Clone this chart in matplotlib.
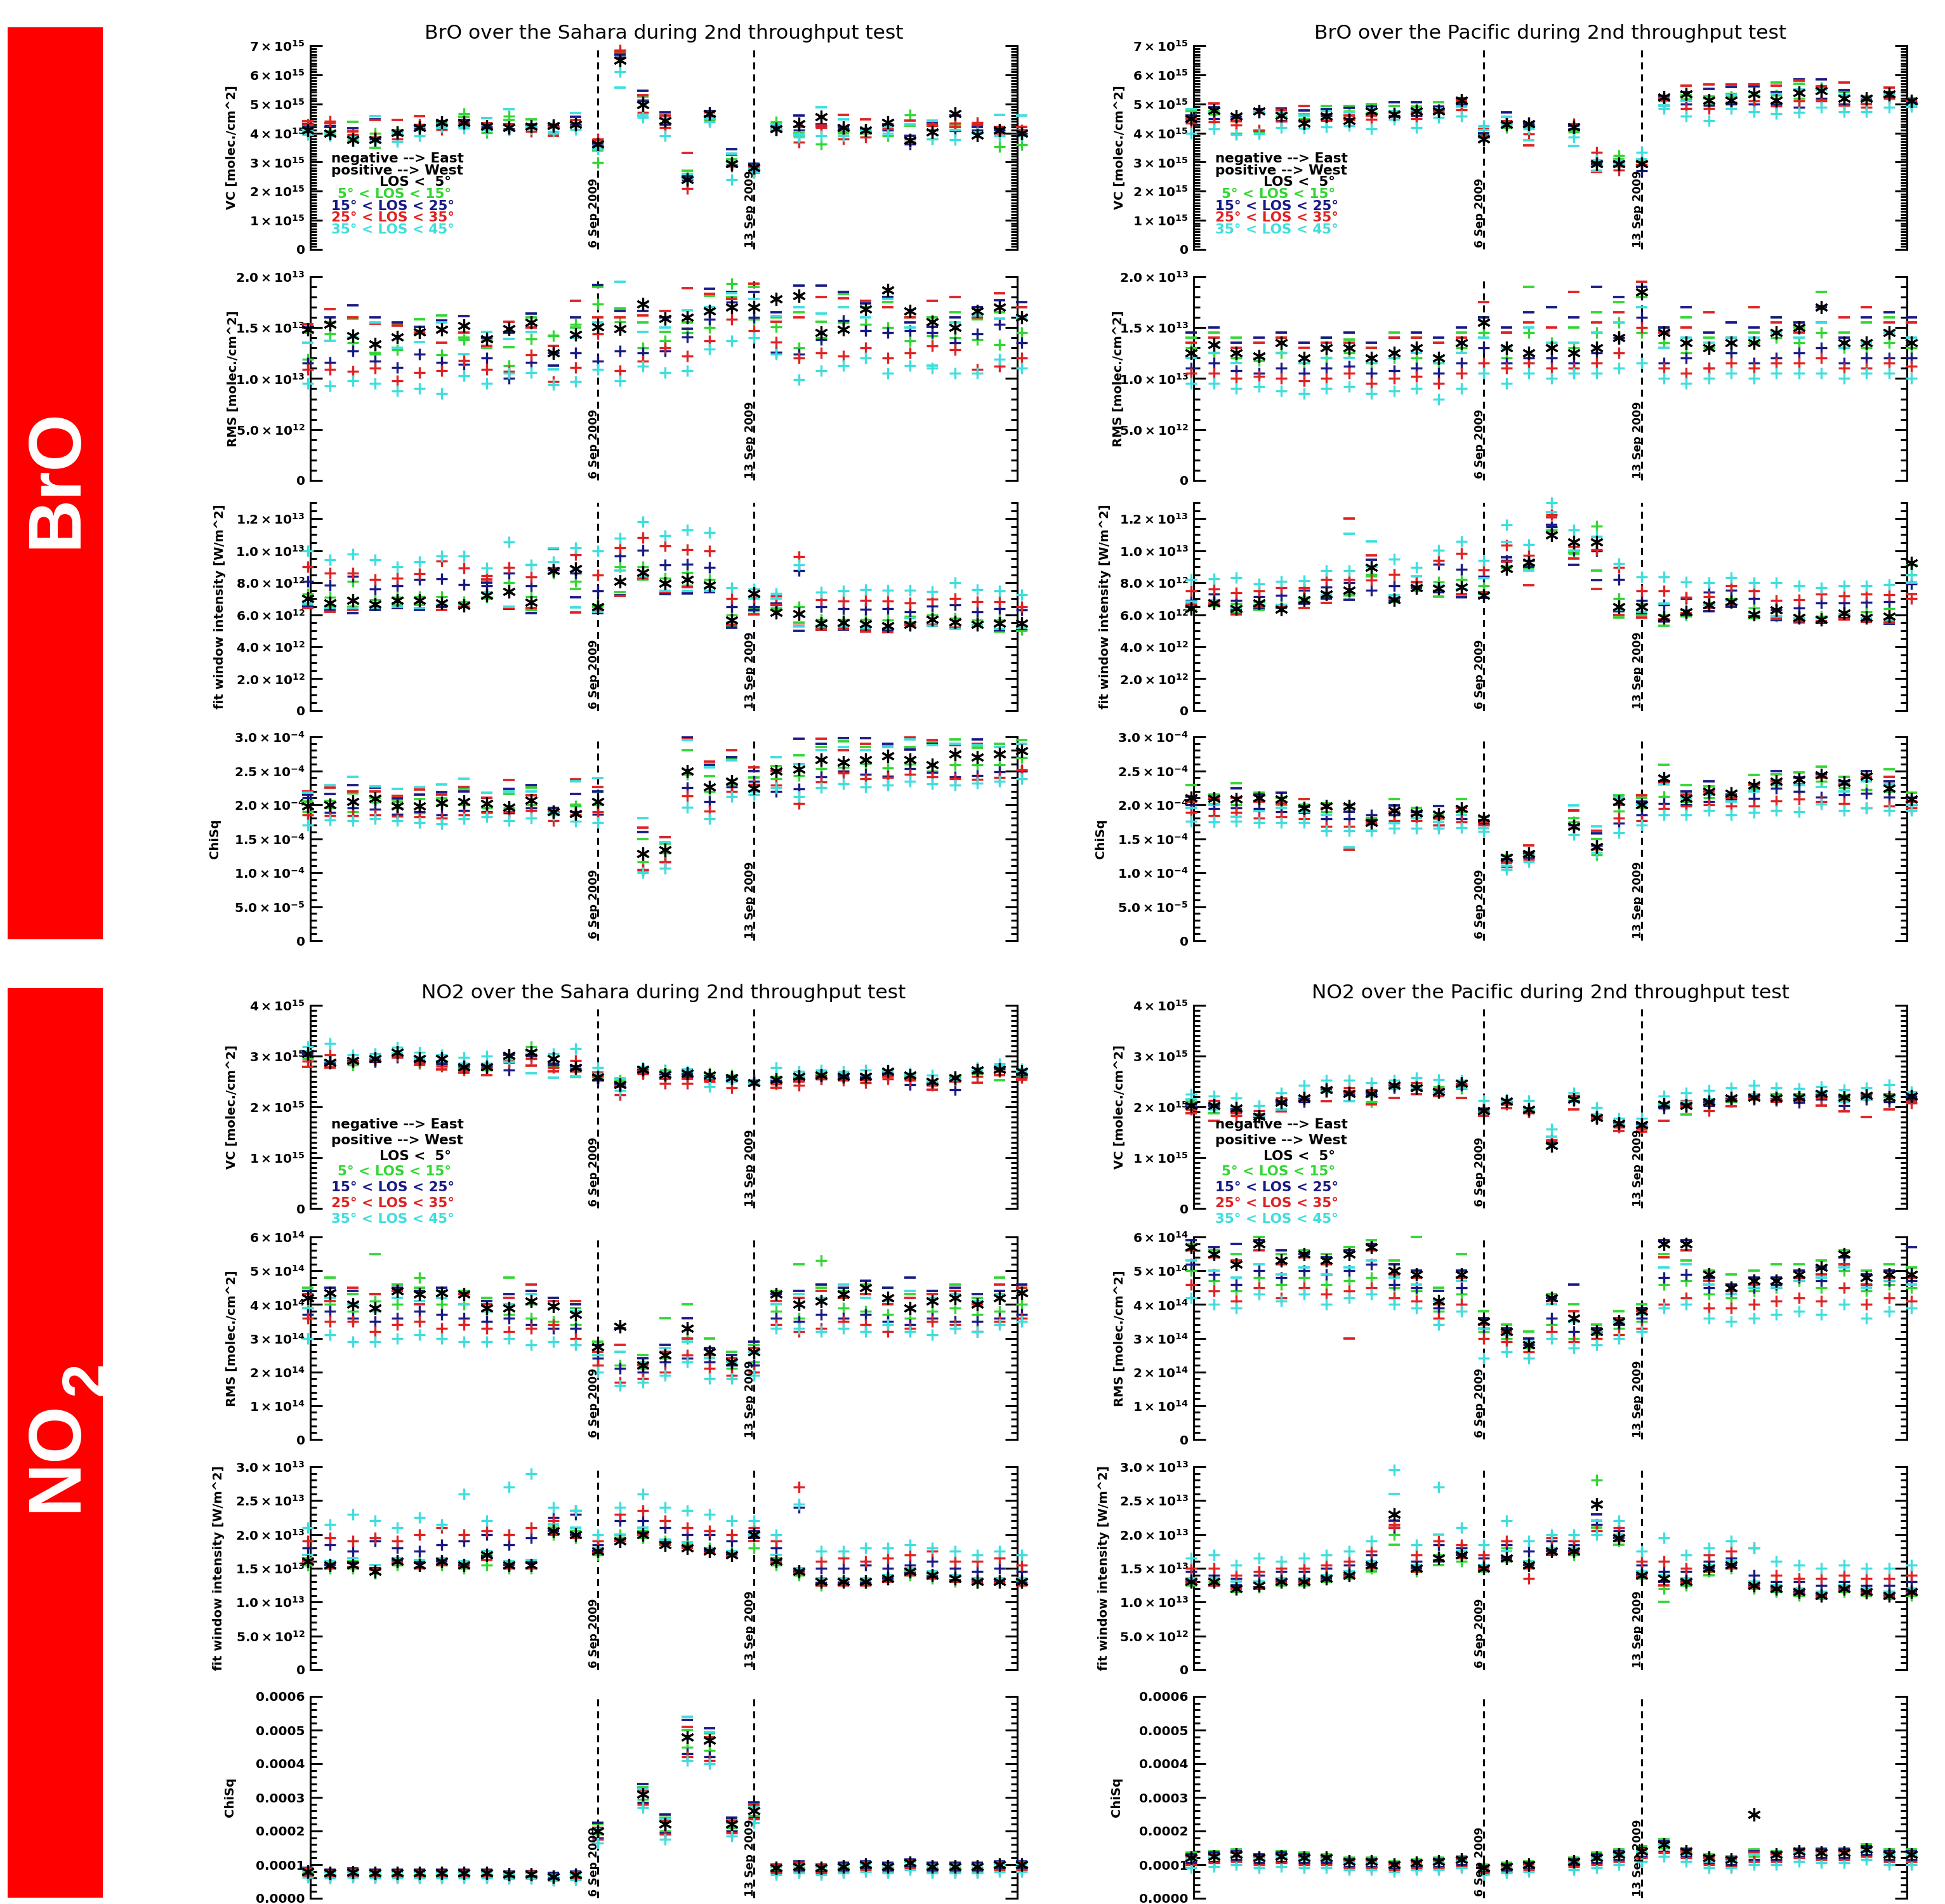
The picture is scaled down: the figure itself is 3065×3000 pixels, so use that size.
import numpy as np
import matplotlib
matplotlib.use("Agg")
import matplotlib.pyplot as plt
from matplotlib.patches import Rectangle
from matplotlib.ticker import MultipleLocator
from matplotlib import transforms

nan = np.nan

# days relative to 6 Sep 2009 (one value per day)
DAY = [-13, -12, -11, -10, -9, -8, -7, -6, -5, -4, -3, -2, -1, 0, 1, 2, 3, 4, 5, 6,
       7, 8, 9, 10, 11, 12, 13, 14, 15, 16, 17, 18, 19]

# suffix: k = LOS < 5 ; g/b/r/c = 5-15 / 15-25 / 25-35 / 35-45 deg
#         p = positive (West, "+"), n = negative (East, "-")

# ---- BrO Sahara, VC [1e15 molec/cm2]
bro_sah_vc_k = [4.1,4.0,3.77,3.77,4.02,4.19,4.37,4.37,4.23,4.19,4.23,4.26,4.3,3.62,6.5,4.98,4.42,2.39,4.67,2.95,2.81,4.14,4.32,4.56,4.18,4.11,4.37,3.75,4.04,4.67,3.93,4.11,4.0]
bro_sah_vc_gp = [4.0,3.95,3.72,4.0,4.05,4.2,4.3,4.67,4.02,4.57,4.15,4.25,4.25,2.98,6.75,5.15,4.35,2.5,4.45,3.0,2.63,4.39,3.9,3.61,4.05,4.0,3.9,4.63,3.79,4.2,4.3,3.54,3.6]
bro_sah_vc_gn = [4.2,4.05,4.39,3.5,4.1,4.25,4.35,4.55,4.3,4.45,4.48,4.3,4.35,3.41,6.8,5.25,4.5,2.71,4.55,3.1,2.75,4.2,4.0,4.2,4.0,4.1,4.2,4.25,4.25,4.3,4.28,4.1,4.1]
bro_sah_vc_bp = [4.2,4.25,3.9,3.8,3.95,4.15,4.3,4.35,4.2,4.15,4.2,4.2,4.3,3.55,6.6,5.1,4.3,2.4,4.6,2.9,2.7,4.1,4.1,4.25,4.15,4.05,4.1,3.61,4.1,4.07,4.1,4.1,4.0]
bro_sah_vc_bn = [4.3,4.2,4.16,4.48,4.0,4.25,4.4,4.45,4.51,4.3,4.3,4.25,4.55,3.65,6.7,5.45,4.71,2.5,4.75,3.44,2.95,4.25,4.61,4.3,4.2,4.15,4.3,3.9,4.35,4.6,4.2,4.15,4.2]
bro_sah_vc_rp = [4.3,4.4,3.95,3.85,3.8,4.3,4.12,4.3,4.15,4.12,4.05,4.2,4.25,3.8,6.85,4.7,4.18,2.09,4.5,2.85,2.8,4.15,3.68,4.18,3.79,3.86,4.15,3.8,4.25,4.33,4.37,4.0,4.1]
bro_sah_vc_rn = [4.4,4.35,4.05,4.45,4.44,4.58,4.25,4.4,4.35,4.3,4.2,3.91,4.45,3.75,6.8,5.3,4.6,3.31,4.7,3.25,2.85,4.3,4.2,4.25,4.63,4.46,4.25,4.42,4.3,4.2,4.3,4.2,4.2]
bro_sah_vc_cp = [3.95,3.9,3.8,3.7,3.7,3.91,4.2,4.17,4.1,4.1,4.15,4.05,4.12,3.45,6.1,4.53,3.9,2.45,4.39,2.39,2.65,4.15,3.85,3.9,3.9,4.1,4.0,3.7,3.8,3.77,4.0,3.9,3.9]
bro_sah_vc_cn = [4.05,4.0,3.85,4.58,4.0,4.1,4.19,4.2,4.51,4.81,4.2,4.0,4.69,3.5,5.55,4.6,4.5,2.6,4.5,3.3,2.75,4.3,3.95,4.88,4.48,4.05,4.2,4.3,4.42,4.1,4.0,4.63,4.6]

# ---- BrO Sahara, RMS [1e13 molec/cm2]
bro_sah_rms_k = [1.48,1.53,1.42,1.34,1.41,1.46,1.48,1.52,1.39,1.49,1.55,1.25,1.43,1.51,1.49,1.73,1.59,1.6,1.66,1.7,1.7,1.78,1.81,1.45,1.48,1.68,1.87,1.66,1.56,1.5,1.66,1.7,1.6]
bro_sah_rms_gp = [1.19,1.44,1.35,1.24,1.28,1.45,1.23,1.38,1.38,1.13,1.39,1.42,1.53,1.73,1.56,1.3,1.37,1.45,1.5,1.93,1.58,1.51,1.3,1.4,1.55,1.53,1.5,1.37,1.42,1.4,1.38,1.33,1.45]
bro_sah_rms_gn = [1.45,1.55,1.59,1.25,1.53,1.58,1.62,1.4,1.3,1.31,1.6,1.42,1.5,1.9,1.69,1.55,1.46,1.55,1.81,1.8,1.9,1.6,1.65,1.56,1.83,1.7,1.75,1.6,1.6,1.65,1.58,1.65,1.7]
bro_sah_rms_bp = [1.15,1.16,1.27,1.17,1.11,1.24,1.16,1.14,1.2,1.0,1.16,1.25,1.25,1.17,1.27,1.25,1.27,1.41,1.58,1.75,1.6,1.26,1.24,1.38,1.57,1.47,1.45,1.47,1.45,1.35,1.44,1.53,1.35]
bro_sah_rms_bn = [1.5,1.6,1.72,1.6,1.55,1.51,1.57,1.61,1.4,1.45,1.64,1.13,1.6,1.92,1.66,1.66,1.6,1.49,1.88,1.85,1.85,1.65,1.91,1.91,1.85,1.74,1.8,1.55,1.51,1.6,1.7,1.77,1.75]
bro_sah_rms_rp = [1.09,1.09,1.07,1.1,0.98,1.06,1.08,1.18,1.09,1.07,1.23,0.97,1.11,1.44,1.08,1.17,1.3,1.22,1.37,1.58,1.47,1.36,1.2,1.25,1.22,1.3,1.2,1.25,1.32,1.28,1.09,1.12,1.2]
bro_sah_rms_rn = [1.53,1.68,1.6,1.54,1.52,1.45,1.35,1.45,1.32,1.56,1.5,1.32,1.76,1.6,1.6,1.62,1.66,1.89,1.83,1.78,1.93,1.56,1.6,1.8,1.79,1.76,1.7,1.6,1.76,1.8,1.6,1.84,1.7]
bro_sah_rms_cp = [0.95,0.93,0.98,0.95,0.88,0.9,0.85,1.03,0.95,1.05,1.06,0.94,0.97,1.09,0.98,1.12,1.06,1.08,1.29,1.37,1.4,1.24,0.99,1.08,1.13,1.2,1.05,1.13,1.1,1.05,1.05,1.19,1.1]
bro_sah_rms_cn = [1.35,1.37,1.4,1.55,1.3,1.36,1.55,1.24,1.46,1.39,1.46,1.09,1.4,1.55,1.95,1.46,1.5,1.67,1.7,1.84,1.78,1.61,1.7,1.64,1.7,1.6,1.78,1.5,1.13,1.55,1.62,1.59,1.6]

# ---- BrO Sahara, fit window intensity [1e12 W/m2]
bro_sah_fit_k = [7.0,6.75,6.9,6.66,6.9,6.9,6.75,6.56,7.2,7.45,6.78,8.77,8.86,6.5,8.08,8.64,7.95,8.2,7.86,5.65,7.34,6.13,6.08,5.45,5.5,5.42,5.3,5.38,5.7,5.55,5.38,5.45,5.45]
bro_sah_fit_gp = [7.3,7.1,8.1,6.95,7.1,7.15,7.15,6.8,7.1,8.0,7.15,8.6,8.1,6.6,9.0,9.0,8.3,8.64,8.19,6.0,6.4,6.43,6.5,5.7,5.7,5.7,5.65,5.9,5.97,5.78,5.65,5.65,5.06]
bro_sah_fit_gn = [6.6,6.5,6.5,6.5,6.6,6.6,6.6,6.6,7.0,6.5,6.3,8.9,7.6,6.5,7.4,8.19,7.5,7.8,7.43,5.3,6.23,6.3,5.5,5.2,5.2,5.1,5.1,5.5,5.4,5.2,5.35,4.95,5.0]
bro_sah_fit_bp = [8.1,7.86,8.4,7.6,7.8,8.2,8.25,7.9,7.8,8.6,7.82,8.8,8.6,7.47,9.65,10.04,9.1,9.17,8.94,6.5,6.5,6.6,8.77,6.5,6.36,6.34,6.36,6.17,6.52,6.62,6.2,6.36,6.3]
bro_sah_fit_bn = [6.5,6.3,6.1,6.3,6.4,6.3,6.5,6.5,8.0,6.36,6.1,10.1,7.1,6.1,7.2,8.3,7.3,7.34,7.4,5.2,6.3,6.7,5.0,5.08,5.06,5.0,5.0,5.4,5.3,5.15,5.3,5.05,5.1]
bro_sah_fit_rp = [9.0,8.6,8.6,8.2,8.3,8.55,9.36,8.9,8.45,8.97,8.35,8.86,9.75,8.47,10.17,10.8,10.3,10.08,10.0,7.0,7.08,7.17,9.62,6.95,6.86,6.9,6.86,6.73,6.98,7.0,6.82,6.82,6.5]
bro_sah_fit_rn = [6.4,6.2,6.3,6.4,6.5,6.4,6.3,6.5,8.2,6.4,6.4,8.9,6.13,6.3,7.17,8.3,7.4,7.73,7.5,5.4,6.04,6.62,5.3,5.08,5.1,4.95,4.9,5.4,5.35,5.2,5.3,5.1,5.2]
bro_sah_fit_cp = [10.0,9.45,9.8,9.45,9.0,9.3,9.65,9.65,8.9,10.56,9.1,9.3,10.17,10.0,10.77,11.8,10.92,11.3,11.12,7.7,7.6,7.34,9.1,7.4,7.5,7.56,7.54,7.54,7.43,8.0,7.56,7.47,7.27]
bro_sah_fit_cn = [6.7,6.4,6.4,6.4,6.5,6.43,6.6,6.6,7.4,6.5,9.1,10.15,6.47,6.2,8.77,8.4,7.5,7.5,7.5,5.5,7.0,7.0,5.25,5.3,5.3,5.2,5.15,5.78,5.3,5.12,5.3,5.1,5.2]

# ---- BrO Sahara, ChiSq [1e-4]
bro_sah_chi_k = [1.98,2.0,2.05,2.09,1.98,1.98,2.03,2.05,2.02,1.96,2.07,1.9,1.87,2.05,nan,1.28,1.34,2.5,2.26,2.35,2.24,2.5,2.52,2.66,2.63,2.66,2.72,2.66,2.59,2.75,2.7,2.75,2.79]
bro_sah_chi_gp = [1.9,1.95,1.9,2.04,1.95,1.88,2.0,2.0,1.95,1.95,2.0,1.88,1.98,2.0,nan,1.16,1.29,2.45,2.2,2.3,2.3,2.38,2.43,2.53,2.55,2.61,2.54,2.6,2.5,2.59,2.59,2.59,2.69]
bro_sah_chi_gn = [2.05,2.06,2.17,2.1,2.05,2.08,2.09,2.23,2.1,2.16,2.25,1.92,2.0,2.19,nan,1.5,1.43,2.8,2.42,2.67,2.4,2.57,2.73,2.85,2.93,2.85,2.86,2.85,2.92,2.96,2.84,2.9,2.95]
bro_sah_chi_bp = [2.1,1.89,1.95,1.93,1.86,1.9,1.85,1.92,1.9,1.88,1.95,1.9,1.9,1.86,nan,1.04,1.16,2.25,2.05,2.26,2.35,2.2,2.23,2.41,2.5,2.45,2.42,2.53,2.48,2.41,2.43,2.49,2.5]
bro_sah_chi_bn = [2.15,2.16,2.29,2.25,2.09,2.15,2.19,2.2,2.1,2.23,2.29,1.95,2.16,2.2,nan,1.6,1.52,2.99,2.59,2.7,2.5,2.5,2.97,2.9,2.98,2.98,2.9,2.81,2.9,2.9,2.96,2.85,2.9]
bro_sah_chi_rp = [1.85,1.84,1.84,1.85,1.83,1.82,1.8,1.85,1.89,1.9,1.92,1.77,1.85,1.9,nan,1.05,1.16,2.13,1.91,2.2,2.3,2.29,2.02,2.34,2.47,2.38,2.4,2.45,2.41,2.38,2.37,2.4,2.51]
bro_sah_chi_rn = [2.2,2.25,2.2,2.2,2.13,2.22,2.15,2.26,2.1,2.36,2.14,1.9,2.37,2.26,nan,1.66,1.52,2.96,2.64,2.8,2.55,2.5,2.6,2.97,2.8,2.9,2.85,2.99,2.95,2.88,2.9,2.85,2.9]
bro_sah_chi_cp = [1.7,1.78,1.77,1.79,1.77,1.74,1.72,1.79,1.82,1.77,1.8,1.85,1.76,1.74,nan,1.0,1.07,1.96,1.79,2.12,2.15,2.25,2.12,2.25,2.31,2.26,2.29,2.35,2.31,2.29,2.32,2.35,2.38]
bro_sah_chi_cn = [2.18,2.29,2.41,2.27,2.23,2.26,2.3,2.38,2.18,2.2,2.2,1.88,2.35,2.39,nan,1.8,1.45,2.95,2.55,2.65,2.2,2.7,2.6,2.8,2.85,2.8,2.85,2.96,2.88,2.9,2.88,2.85,2.9]

# ---- BrO Pacific, VC [1e15 molec/cm2]
bro_pac_vc_k = [4.5,4.78,4.57,4.76,4.6,4.35,4.57,4.42,4.76,4.64,4.76,4.76,5.13,3.8,4.3,4.32,nan,4.21,2.94,2.94,2.94,5.24,5.34,5.13,5.13,5.34,5.13,5.38,5.45,5.2,5.2,5.34,5.1]
bro_pac_vc_gp = [4.6,4.65,4.0,4.04,4.57,4.5,4.45,4.75,4.7,4.7,4.81,4.7,5.0,3.85,4.18,4.21,nan,4.04,2.9,3.23,2.9,5.1,5.17,5.0,5.25,5.3,5.3,5.2,5.55,5.3,5.1,5.35,5.0]
bro_pac_vc_gn = [4.75,4.75,4.55,4.7,4.75,4.64,4.92,4.92,4.99,4.92,4.9,5.06,5.06,3.95,4.4,4.3,nan,4.1,3.05,3.1,3.01,5.2,5.3,5.25,5.35,5.66,5.73,5.7,5.5,5.4,5.25,5.3,5.2]
bro_pac_vc_bp = [4.45,4.5,4.5,4.7,4.42,4.4,4.6,4.5,4.65,4.6,4.6,4.8,5.0,3.85,4.4,4.3,nan,4.15,3.0,2.9,2.7,4.95,5.0,4.95,5.0,4.99,5.0,4.88,5.2,5.0,5.13,5.25,5.05]
bro_pac_vc_bn = [4.6,4.88,4.55,4.81,4.85,4.78,4.81,4.86,4.9,5.05,5.05,4.9,5.2,4.0,4.71,4.35,nan,4.25,2.95,3.0,2.9,5.28,5.4,5.52,5.59,5.6,5.41,5.84,5.84,5.48,5.15,5.4,5.15]
bro_pac_vc_rp = [4.35,4.39,4.28,4.1,4.4,4.45,4.42,4.45,4.46,4.55,4.5,4.71,4.79,3.9,4.35,3.97,nan,4.32,3.33,2.73,3.01,5.15,4.85,4.85,5.05,5.1,4.92,5.1,5.1,4.95,4.88,5.2,4.99]
bro_pac_vc_rn = [4.5,5.02,4.4,4.07,4.8,4.92,4.65,4.6,4.6,4.7,4.7,4.75,5.1,4.14,4.4,3.58,nan,4.3,2.66,2.85,2.9,5.2,5.62,5.66,5.66,5.66,5.62,5.8,5.6,5.73,5.0,5.55,5.1]
bro_pac_vc_cp = [4.0,4.14,3.95,3.97,4.18,4.16,4.21,4.25,4.14,4.46,4.18,4.53,4.57,4.25,4.3,4.15,nan,3.86,3.08,2.95,3.33,4.85,4.57,4.42,4.85,4.74,4.67,4.71,4.88,4.74,4.74,4.88,4.9]
bro_pac_vc_cn = [4.81,4.7,4.5,4.72,4.7,4.6,4.75,4.7,4.85,4.75,4.8,4.85,4.9,4.1,4.55,3.75,nan,3.56,2.7,3.05,3.1,4.95,5.1,5.2,5.3,5.4,5.35,5.5,5.5,5.3,5.1,5.3,5.0]

# ---- BrO Pacific, RMS [1e13 molec/cm2]
bro_pac_rms_k = [1.25,1.33,1.25,1.22,1.35,1.2,1.3,1.3,1.2,1.25,1.3,1.2,1.35,1.55,1.3,1.25,1.3,1.25,1.3,1.4,1.85,1.45,1.35,1.3,1.35,1.35,1.45,1.5,1.7,1.35,1.35,1.45,1.35]
bro_pac_rms_gp = [1.3,1.25,1.2,1.18,1.25,1.15,1.2,1.25,1.15,1.2,1.2,1.15,1.3,1.45,1.2,1.45,1.35,1.3,1.45,1.55,1.45,1.35,1.25,1.3,1.25,1.35,1.4,1.35,1.45,1.3,1.3,1.35,1.3]
bro_pac_rms_gn = [1.4,1.45,1.4,1.35,1.4,1.35,1.4,1.38,1.3,1.45,1.4,1.35,1.45,1.6,1.45,1.9,1.7,1.5,1.65,1.75,1.8,1.5,1.6,1.4,1.55,1.45,1.6,1.5,1.85,1.45,1.55,1.6,1.55]
bro_pac_rms_bp = [1.1,1.15,1.08,1.05,1.1,1.05,1.1,1.12,1.05,1.08,1.1,1.05,1.15,1.3,1.15,1.2,1.2,1.15,1.25,1.4,1.6,1.15,1.2,1.1,1.25,1.15,1.2,1.25,1.3,1.15,1.2,1.2,1.2]
bro_pac_rms_bn = [1.45,1.5,1.35,1.4,1.45,1.35,1.4,1.45,1.35,1.4,1.45,1.4,1.5,1.6,1.5,1.65,1.7,1.6,1.9,1.8,1.9,1.5,1.7,1.45,1.55,1.5,1.6,1.55,1.7,1.4,1.6,1.65,1.6]
bro_pac_rms_rp = [1.05,1.05,1.0,1.02,1.0,0.98,1.0,1.05,0.95,1.0,1.02,0.95,1.05,1.15,1.1,1.15,1.1,1.1,1.15,1.25,1.5,1.1,1.05,1.1,1.15,1.1,1.15,1.15,1.2,1.1,1.1,1.15,1.12]
bro_pac_rms_rn = [1.35,1.4,1.3,1.35,1.4,1.3,1.35,1.35,1.3,1.4,1.4,1.35,1.4,1.75,1.45,1.55,1.5,1.85,1.55,1.65,1.95,1.45,1.5,1.65,1.4,1.7,1.55,1.45,1.55,1.6,1.7,1.55,1.55]
bro_pac_rms_cp = [0.95,0.95,0.9,0.92,0.88,0.85,0.9,0.92,0.85,0.88,0.9,0.8,0.9,1.05,0.95,1.05,1.0,1.05,1.05,1.1,1.15,1.0,0.95,1.0,1.05,1.0,1.05,1.05,1.05,1.0,1.05,1.05,1.0]
bro_pac_rms_cn = [1.2,1.25,1.15,1.2,1.25,1.15,1.2,1.2,1.15,1.2,1.25,1.15,1.25,1.4,1.3,1.5,1.35,1.35,1.45,1.55,1.7,1.3,1.4,1.35,1.4,1.4,1.45,1.4,1.55,1.3,1.35,1.45,1.4]

# ---- BrO Pacific, fit window intensity [1e12 W/m2]
bro_pac_fit_k = [6.36,6.73,6.39,6.73,6.34,6.95,7.3,7.51,8.94,6.95,7.67,7.64,7.73,7.21,8.87,9.26,10.99,10.56,10.56,6.49,6.49,5.84,6.2,6.62,6.82,6.04,6.3,5.84,5.71,6.1,5.84,5.91,9.23]
bro_pac_fit_gp = [6.7,6.9,6.7,6.8,6.6,7.1,7.4,7.3,8.51,7.0,7.8,8.06,8.19,7.8,9.03,9.1,11.3,9.82,11.55,7.01,6.7,6.0,5.97,6.75,7.0,6.43,5.9,5.84,5.9,6.05,6.2,6.39,9.1]
bro_pac_fit_gn = [6.3,6.55,6.1,6.3,6.4,6.8,7.1,7.2,8.4,6.8,7.5,7.12,7.17,7.3,8.9,8.9,11.2,9.9,8.77,5.84,6.0,5.32,5.9,6.4,6.6,5.8,5.7,5.5,5.5,5.8,5.6,5.6,8.5]
bro_pac_fit_bp = [6.9,7.3,6.88,7.12,7.21,7.51,7.73,8.0,7.54,7.82,8.06,9.17,8.84,8.42,9.39,9.4,11.5,10.04,10.0,8.19,6.88,6.62,7.01,7.41,7.54,7.01,6.3,6.43,6.73,6.73,6.78,6.82,7.93]
bro_pac_fit_bn = [6.5,6.6,6.3,6.4,6.45,6.7,7.0,6.95,9.43,6.9,7.7,7.4,7.1,7.04,9.6,9.0,11.6,9.1,8.16,6.23,6.1,5.6,6.0,6.23,6.5,5.9,5.65,5.55,5.5,5.8,5.6,5.42,8.0]
bro_pac_fit_rp = [7.5,7.6,7.38,7.47,7.69,7.69,8.21,8.21,8.16,8.51,8.06,9.39,9.82,8.81,10.34,9.69,12.23,10.27,10.08,8.94,7.47,7.47,7.08,7.14,7.8,7.47,6.88,6.95,7.3,7.17,7.3,7.25,7.01]
bro_pac_fit_rn = [6.6,6.7,6.04,6.5,6.5,6.43,6.75,12.0,9.69,7.0,8.06,7.5,7.3,7.4,9.3,7.86,12.1,9.5,7.6,6.0,5.84,5.7,6.1,6.4,6.6,5.85,5.75,5.6,5.6,5.71,5.55,5.5,7.3]
bro_pac_fit_cp = [8.2,8.25,8.34,7.93,8.08,8.12,8.77,8.77,9.0,9.49,8.94,10.04,10.6,9.39,11.6,10.4,13.0,11.29,10.9,9.2,8.38,8.38,8.03,7.99,8.32,7.99,7.99,7.8,7.67,7.82,7.8,7.9,8.5]
bro_pac_fit_cn = [6.8,6.9,6.4,6.6,6.6,7.0,7.2,11.06,10.6,7.2,8.42,7.8,7.6,8.29,10.53,8.77,12.42,10.0,10.86,6.3,6.2,6.69,6.3,6.6,6.9,6.1,5.9,5.8,5.8,6.0,5.8,5.7,8.0]

# ---- BrO Pacific, ChiSq [1e-4]
bro_pac_chi_k = [2.1,2.09,2.08,2.1,2.08,1.95,1.98,1.98,1.74,1.92,1.88,1.86,1.94,1.8,1.22,1.28,nan,1.68,1.38,2.05,2.0,2.39,2.09,2.2,2.17,2.29,2.35,2.37,2.44,2.33,2.42,2.24,2.08]
bro_pac_chi_gp = [2.05,2.02,2.0,2.07,2.0,1.92,1.9,1.95,1.8,1.85,1.85,1.79,1.9,1.75,1.2,1.25,nan,1.75,1.26,1.91,1.95,2.12,2.05,2.1,2.1,2.23,2.29,2.2,2.35,2.25,2.22,2.2,2.1]
bro_pac_chi_gn = [2.29,2.15,2.32,2.18,2.1,2.0,2.02,2.0,1.8,2.08,1.95,1.85,2.08,1.82,1.25,1.3,nan,1.8,1.5,2.14,2.1,2.59,2.29,2.27,2.12,2.44,2.45,2.48,2.56,2.41,2.45,2.52,2.18]
bro_pac_chi_bp = [2.0,1.94,1.95,1.94,1.9,1.89,1.79,1.79,1.85,1.85,1.9,1.7,1.79,1.72,1.16,1.22,nan,1.7,1.4,1.73,1.85,2.02,2.0,2.05,2.08,2.09,2.24,2.2,2.11,2.15,2.17,2.11,2.0]
bro_pac_chi_bn = [2.12,2.08,2.24,2.15,2.18,1.97,1.95,1.9,1.78,1.99,1.9,1.98,1.95,1.78,1.2,1.28,nan,1.92,1.58,2.1,2.05,2.35,2.2,2.35,2.15,2.3,2.5,2.4,2.45,2.35,2.5,2.35,2.1]
bro_pac_chi_rp = [1.89,1.84,1.89,1.8,1.82,1.79,1.68,1.68,1.72,1.77,1.77,1.7,1.75,1.7,1.08,1.2,nan,1.65,1.35,1.8,1.77,1.94,1.98,2.0,1.98,1.98,2.06,2.08,2.05,2.02,1.95,1.98,1.95]
bro_pac_chi_rn = [2.05,2.1,2.1,2.05,2.02,2.08,1.95,1.34,1.75,1.9,1.85,1.8,1.95,1.75,1.15,1.4,nan,1.92,1.62,2.0,2.14,2.32,2.15,2.2,2.1,2.3,2.35,2.3,2.4,2.3,2.4,2.41,2.05]
bro_pac_chi_cp = [1.76,1.75,1.76,1.74,1.74,1.74,1.62,1.62,1.62,1.65,1.65,1.65,1.66,1.61,1.05,1.16,nan,1.56,1.3,1.59,1.7,1.85,1.85,1.92,1.85,1.89,1.92,1.9,2.01,1.92,1.95,1.92,1.92]
bro_pac_chi_cn = [1.95,2.0,1.82,1.91,1.95,1.9,1.85,1.37,1.62,1.73,1.8,1.75,1.85,1.65,1.1,1.25,nan,1.99,1.68,2.1,2.0,2.3,2.09,2.15,2.05,2.2,2.3,2.29,2.26,2.2,2.35,2.3,2.0]

# ---- NO2 Sahara, VC [1e15 molec/cm2]
no2_sah_vc_k = [3.05,2.87,2.91,2.95,3.07,2.95,2.95,2.79,2.79,3.01,3.07,2.95,2.77,2.59,2.44,2.74,2.64,2.66,2.62,2.58,2.48,2.54,2.6,2.62,2.6,2.6,2.7,2.62,2.5,2.58,2.72,2.74,2.7]
no2_sah_vc_gp = [2.95,2.9,2.83,2.9,3.0,2.85,2.82,2.75,2.72,2.9,3.19,2.85,2.7,2.55,2.52,2.72,2.72,2.6,2.66,2.62,2.45,2.6,2.58,2.6,2.58,2.55,2.6,2.58,2.48,2.55,2.65,2.7,2.6]
no2_sah_vc_gn = [3.0,2.85,2.9,2.92,3.05,2.86,2.85,2.78,2.76,2.95,3.1,2.8,2.59,2.6,2.5,2.75,2.65,2.62,2.6,2.6,2.5,2.55,2.55,2.65,2.62,2.58,2.65,2.6,2.45,2.6,2.7,2.52,2.65]
no2_sah_vc_bp = [3.0,2.9,2.89,2.89,2.98,2.9,2.85,2.8,2.8,2.72,3.0,2.82,2.75,2.52,2.4,2.68,2.6,2.6,2.55,2.55,2.52,2.5,2.55,2.55,2.57,2.55,2.62,2.44,2.45,2.34,2.68,2.75,2.62]
no2_sah_vc_bn = [3.05,2.85,2.92,2.95,3.02,2.92,2.88,2.82,2.82,3.02,3.02,2.85,2.8,2.62,2.45,2.72,2.62,2.65,2.6,2.58,2.5,2.52,2.58,2.6,2.6,2.58,2.68,2.62,2.48,2.55,2.7,2.78,2.68]
no2_sah_vc_rp = [2.9,3.03,2.9,2.92,3.01,2.88,2.8,2.72,2.76,2.88,2.95,2.78,2.91,2.6,2.24,2.65,2.46,2.46,2.5,2.38,2.44,2.45,2.42,2.55,2.52,2.48,2.55,2.52,2.42,2.52,2.6,2.7,2.58]
no2_sah_vc_rn = [2.79,2.77,2.88,2.9,2.98,2.83,2.74,2.68,2.62,2.92,2.81,2.7,2.7,2.68,2.4,2.7,2.55,2.55,2.52,2.5,2.45,2.38,2.5,2.58,2.55,2.52,2.6,2.55,2.34,2.5,2.48,2.62,2.54]
no2_sah_vc_cp = [3.19,3.25,3.03,3.05,3.17,3.07,3.03,2.98,3.0,2.95,3.1,3.05,3.15,2.77,2.32,2.78,2.7,2.7,2.4,2.55,2.5,2.77,2.7,2.72,2.7,2.72,2.72,2.66,2.62,2.55,2.78,2.85,2.75]
no2_sah_vc_cn = [3.1,2.9,2.95,2.98,3.05,2.95,2.9,2.85,2.85,2.89,2.66,2.58,2.6,2.65,2.56,2.79,2.6,2.74,2.58,2.5,2.45,2.55,2.6,2.68,2.65,2.62,2.7,2.62,2.5,2.52,2.7,2.8,2.7]

# ---- NO2 Sahara, RMS [1e14 molec/cm2]
no2_sah_rms_k = [4.2,4.35,4.0,3.9,4.4,4.3,4.35,4.3,3.9,3.9,4.1,3.95,3.7,2.75,3.35,2.2,2.5,3.3,2.6,2.3,2.6,4.3,4.0,4.1,4.3,4.5,4.2,3.9,4.1,4.2,4.0,4.2,4.35]
no2_sah_rms_gp = [3.9,4.0,3.8,4.1,4.0,4.8,4.0,4.0,3.8,3.7,3.6,3.5,3.4,2.5,2.2,2.1,2.4,3.0,2.5,2.1,2.3,3.8,3.6,5.3,3.9,3.8,3.7,3.6,3.8,3.9,3.7,3.8,4.0]
no2_sah_rms_gn = [4.5,4.8,4.3,5.5,4.6,4.5,4.4,4.4,4.2,4.8,4.0,4.2,3.9,2.9,2.6,2.5,3.6,4.0,3.0,2.6,2.8,4.4,5.2,4.5,4.4,4.6,4.5,4.3,4.4,4.6,4.2,4.8,4.5]
no2_sah_rms_bp = [3.7,3.8,3.6,3.5,3.6,3.8,3.7,3.6,3.5,3.6,3.4,3.3,3.3,2.4,2.1,2.0,2.3,2.4,2.3,2.2,2.2,3.6,3.5,3.7,3.6,3.7,3.5,3.4,3.6,3.5,3.5,3.6,3.7]
no2_sah_rms_bn = [4.4,4.5,4.4,4.3,4.5,4.4,4.5,4.3,4.1,4.3,4.4,4.2,4.0,2.8,3.3,2.4,2.8,3.6,2.7,2.5,2.9,4.3,4.4,4.6,4.5,4.7,4.5,4.8,4.4,4.5,4.3,4.4,4.6]
no2_sah_rms_rp = [3.6,3.5,3.5,3.2,3.4,3.5,3.3,3.4,3.3,3.2,3.3,3.4,3.0,2.2,1.7,1.8,2.0,2.5,2.1,1.9,2.0,3.4,3.2,3.3,3.5,3.4,3.2,3.3,3.5,3.4,3.2,3.5,3.6]
no2_sah_rms_rn = [4.3,4.1,4.5,4.3,4.4,4.0,4.2,4.3,4.0,4.2,4.6,4.1,4.1,2.6,2.8,2.2,2.6,3.0,2.5,2.4,2.7,4.1,4.2,4.4,4.2,4.3,4.0,4.2,4.3,4.4,4.0,4.6,4.5]
no2_sah_rms_cp = [3.0,3.1,2.9,2.9,3.0,3.1,3.0,2.9,2.9,3.0,2.8,2.9,2.8,2.0,1.6,1.7,1.9,2.3,1.8,1.8,1.9,3.3,3.3,3.2,3.3,3.2,3.4,3.2,3.1,3.3,3.2,3.4,3.5]
no2_sah_rms_cn = [3.9,4.2,4.0,3.8,4.2,4.1,4.2,4.0,3.8,4.0,4.3,3.9,3.8,2.5,2.6,2.3,2.7,2.9,2.4,2.3,2.6,4.0,4.3,4.2,4.6,4.2,4.1,4.4,4.2,4.3,4.1,4.3,4.4]

# ---- NO2 Sahara, fit window intensity [1e13 W/m2]
no2_sah_fit_k = [1.6,1.55,1.55,1.45,1.6,1.55,1.6,1.55,1.7,1.55,1.55,2.05,2.0,1.75,1.9,2.0,1.85,1.8,1.75,1.7,2.0,1.6,1.45,1.3,1.3,1.3,1.35,1.45,1.4,1.35,1.3,1.3,1.3]
no2_sah_fit_gp = [1.55,1.5,1.5,1.42,1.55,1.6,1.55,1.5,1.55,1.5,1.5,2.0,1.95,1.7,2.0,1.95,1.9,1.85,1.8,1.75,1.8,1.55,1.4,1.25,1.3,1.28,1.35,1.4,1.35,1.3,1.28,1.3,1.28]
no2_sah_fit_gn = [1.65,1.58,1.6,1.5,1.62,1.6,1.62,1.58,1.7,1.58,1.6,2.1,2.05,1.8,1.95,2.05,1.9,1.85,1.78,1.72,1.95,1.65,1.5,1.35,1.35,1.32,1.4,1.45,1.42,1.38,1.35,1.35,1.32]
no2_sah_fit_bp = [1.8,1.85,1.75,1.9,1.8,1.75,1.85,1.9,2.0,1.85,1.95,2.25,2.3,1.85,2.2,2.2,2.1,2.0,2.0,1.9,2.05,1.8,2.4,1.5,1.5,1.55,1.5,1.55,1.6,1.5,1.45,1.5,1.45]
no2_sah_fit_bn = [1.62,1.55,1.58,1.5,1.6,1.58,1.6,1.55,1.68,1.55,1.58,2.05,2.0,1.75,1.92,2.02,1.88,1.82,1.75,1.7,1.95,1.62,1.45,1.28,1.28,1.28,1.35,1.42,1.38,1.32,1.3,1.3,1.28]
no2_sah_fit_rp = [1.9,1.95,1.9,1.95,1.9,2.0,2.1,2.0,2.05,2.0,2.1,2.2,2.35,1.9,2.3,2.35,2.2,2.1,2.05,2.0,2.1,1.9,2.7,1.6,1.65,1.6,1.65,1.7,1.75,1.6,1.6,1.65,1.55]
no2_sah_fit_rn = [1.6,1.5,1.52,1.48,1.58,1.5,1.55,1.52,1.62,1.5,1.5,2.0,1.95,1.72,1.9,2.0,1.85,1.8,1.72,1.68,1.9,1.58,1.42,1.25,1.25,1.25,1.3,1.4,1.35,1.3,1.28,1.28,1.25]
no2_sah_fit_cp = [2.1,2.15,2.3,2.2,2.1,2.25,2.15,2.6,2.2,2.7,2.9,2.4,2.35,2.0,2.4,2.6,2.4,2.35,2.3,2.2,2.2,2.0,2.45,1.75,1.75,1.8,1.8,1.85,1.8,1.75,1.7,1.75,1.7]
no2_sah_fit_cn = [1.7,1.6,1.65,1.55,1.65,1.62,1.65,1.6,1.75,1.6,1.62,2.15,2.1,1.8,2.0,2.1,1.92,1.88,1.8,1.75,2.0,1.7,1.5,1.35,1.35,1.35,1.4,1.5,1.45,1.4,1.35,1.35,1.35]

# ---- NO2 Sahara, ChiSq [1e-4]
no2_sah_chi_k = [0.8,0.75,0.78,0.75,0.75,0.75,0.75,0.75,0.75,0.72,0.72,0.65,0.7,2.0,nan,3.1,2.2,4.8,4.7,2.2,2.6,0.9,0.95,0.9,0.95,1.0,0.95,1.05,0.95,0.95,0.95,1.0,1.0]
no2_sah_chi_gp = [0.75,0.7,0.72,0.7,0.7,0.7,0.7,0.7,0.7,0.68,0.68,0.6,0.65,1.9,nan,2.95,2.0,4.5,4.4,2.1,2.45,0.85,0.9,0.85,0.9,0.95,0.9,1.0,0.9,0.9,0.9,0.95,0.95]
no2_sah_chi_gn = [0.85,0.8,0.82,0.8,0.8,0.8,0.8,0.8,0.8,0.76,0.78,0.7,0.75,2.2,nan,3.3,2.4,5.0,4.9,2.35,2.75,0.95,1.0,0.95,1.0,1.05,1.0,1.1,1.0,1.0,1.0,1.05,1.05]
no2_sah_chi_bp = [0.7,0.68,0.7,0.68,0.68,0.68,0.68,0.68,0.68,0.66,0.66,0.6,0.62,1.8,nan,2.85,1.95,4.3,4.2,2.0,2.4,0.8,0.85,0.8,0.85,0.9,0.85,0.95,0.85,0.85,0.85,0.9,0.9]
no2_sah_chi_bn = [0.9,0.85,0.88,0.85,0.85,0.85,0.85,0.85,0.85,0.8,0.82,0.75,0.8,2.25,nan,3.4,2.5,5.3,5.05,2.4,2.85,1.0,1.1,1.0,1.05,1.1,1.05,1.15,1.05,1.05,1.05,1.1,1.1]
no2_sah_chi_rp = [0.68,0.65,0.66,0.65,0.65,0.65,0.65,0.65,0.65,0.62,0.62,0.55,0.6,1.75,nan,2.8,1.9,4.2,4.1,1.95,2.35,0.75,0.8,0.75,0.8,0.85,0.8,0.9,0.8,0.8,0.8,0.85,0.85]
no2_sah_chi_rn = [0.88,0.82,0.85,0.82,0.82,0.82,0.82,0.82,0.82,0.78,0.8,0.72,0.78,2.1,nan,3.2,2.3,5.1,4.8,2.3,2.8,0.98,1.05,0.98,1.02,1.08,1.02,1.12,1.02,1.02,1.02,1.08,1.08]
no2_sah_chi_cp = [0.62,0.6,0.62,0.6,0.6,0.6,0.6,0.6,0.6,0.58,0.58,0.52,0.55,1.65,nan,2.7,1.75,4.1,4.0,1.85,2.25,0.7,0.75,0.7,0.75,0.8,0.75,0.85,0.75,0.75,0.75,0.8,0.8]
no2_sah_chi_cn = [0.82,0.78,0.8,0.78,0.78,0.78,0.78,0.78,0.78,0.74,0.75,0.68,0.72,2.05,nan,3.25,2.35,5.4,4.95,2.25,2.7,0.92,0.98,0.92,0.98,1.02,0.98,1.08,0.98,0.98,0.98,1.02,1.02]

# ---- NO2 Pacific, VC [1e15 molec/cm2]
no2_pac_vc_k = [2.03,2.03,1.97,1.81,2.09,2.17,2.34,2.26,2.26,2.42,2.38,2.3,2.46,1.93,2.11,1.95,1.24,2.15,1.79,1.67,1.65,2.05,2.03,2.1,2.17,2.19,2.17,2.19,2.26,2.19,2.23,2.19,2.21]
no2_pac_vc_gp = [2.05,2.0,1.95,1.85,2.12,2.15,2.3,2.3,2.1,2.42,2.42,2.4,2.36,1.95,2.08,1.92,1.3,2.18,1.8,1.65,1.62,2.02,2.05,2.05,2.1,2.15,2.22,2.22,2.2,2.18,2.15,2.15,2.2]
no2_pac_vc_gn = [2.1,1.87,1.9,1.8,2.1,2.2,2.3,2.28,2.2,2.4,2.4,2.35,2.4,1.9,2.1,1.95,1.28,2.2,1.82,1.7,1.65,2.08,1.85,2.1,2.15,2.2,2.25,2.25,2.25,2.22,2.2,2.25,2.25]
no2_pac_vc_bp = [2.0,2.05,1.9,1.82,2.08,2.1,2.3,2.25,2.25,2.38,2.35,2.3,2.42,1.97,2.1,1.9,1.3,2.12,1.78,1.62,1.6,1.97,2.0,2.02,2.12,2.15,2.12,2.09,2.15,2.03,2.15,2.1,2.15]
no2_pac_vc_bn = [2.05,2.02,1.95,1.8,2.1,2.18,2.35,2.3,2.28,2.42,2.4,2.32,2.45,1.95,2.12,1.97,1.32,2.2,1.8,1.68,1.66,2.0,2.05,2.1,2.18,2.2,2.15,2.18,2.22,2.2,2.22,2.2,2.2]
no2_pac_vc_rp = [1.95,2.13,1.83,1.93,2.17,2.2,2.38,2.38,2.34,2.45,2.48,2.35,2.45,1.9,2.05,1.9,1.35,2.22,1.81,1.6,1.58,2.05,2.13,1.93,2.15,2.25,2.15,2.2,2.18,2.15,2.25,2.22,2.08]
no2_pac_vc_rn = [1.87,1.73,1.88,1.85,1.91,2.12,2.11,2.3,2.05,2.17,2.25,2.21,2.17,1.83,1.98,1.87,1.33,1.95,1.78,1.53,1.51,1.73,2.0,2.05,2.01,2.15,2.1,2.12,2.02,1.91,1.8,1.95,2.1]
no2_pac_vc_cp = [2.25,2.21,2.17,2.03,2.27,2.42,2.52,2.52,2.48,2.53,2.58,2.54,2.52,2.13,2.15,2.13,1.56,2.27,1.99,1.78,1.77,2.21,2.27,2.32,2.38,2.42,2.38,2.36,2.4,2.34,2.38,2.44,2.3]
no2_pac_vc_cn = [2.15,1.95,2.0,1.82,1.95,2.2,2.3,2.11,2.2,2.35,2.38,2.3,2.38,1.88,2.1,1.95,1.41,2.1,1.85,1.65,1.62,2.05,2.1,2.15,2.2,2.25,2.2,2.2,2.3,2.1,2.15,2.2,2.25]

# ---- NO2 Pacific, RMS [1e14 molec/cm2]
no2_pac_rms_k = [5.7,5.5,5.2,5.8,5.3,5.5,5.3,5.5,5.7,5.0,4.9,4.1,4.9,3.5,3.2,2.8,4.2,3.6,3.2,3.5,3.8,5.8,5.8,4.9,4.5,4.7,4.7,4.9,5.1,5.5,4.8,4.9,4.9]
no2_pac_rms_gp = [5.0,4.7,4.4,4.8,4.6,4.8,4.6,4.7,4.8,4.5,4.4,3.8,4.3,3.2,3.0,2.7,3.4,3.0,3.1,3.3,3.5,4.6,4.7,4.3,4.2,4.4,4.5,4.7,4.5,5.0,4.4,4.6,4.5]
no2_pac_rms_gn = [5.8,5.6,5.5,6.0,5.5,5.6,5.5,5.7,5.9,5.3,6.0,4.5,5.5,3.8,3.4,3.2,4.3,4.0,3.4,3.8,4.0,5.5,5.3,5.0,4.9,5.0,5.2,5.2,5.3,5.6,5.0,5.2,5.1]
no2_pac_rms_bp = [5.2,4.9,4.6,5.0,4.8,5.0,4.9,5.0,5.2,4.6,4.5,3.9,4.5,3.3,3.1,2.8,3.6,3.2,3.2,3.4,3.6,4.8,4.9,4.5,4.4,4.5,4.6,4.8,4.7,5.2,4.6,4.7,4.7]
no2_pac_rms_bn = [5.9,5.7,5.8,5.9,5.6,5.5,5.4,5.6,5.8,5.2,5.0,4.4,5.0,3.6,3.3,3.0,4.2,4.6,3.3,3.6,3.9,5.9,5.9,4.8,4.6,4.8,4.8,5.0,5.1,5.4,4.9,5.0,5.7]
no2_pac_rms_rp = [4.6,4.4,4.1,4.5,4.2,4.5,4.3,4.4,4.5,4.2,4.1,3.6,4.0,3.0,2.9,2.6,3.2,2.9,3.0,3.1,3.3,4.0,4.2,3.9,3.9,4.0,4.1,4.2,4.1,4.5,4.0,4.2,4.1]
no2_pac_rms_rn = [5.6,5.4,5.3,5.6,5.2,5.4,5.2,3.0,5.6,4.9,4.8,4.0,4.8,3.4,3.2,2.9,4.1,3.8,3.2,3.6,3.8,5.4,5.6,4.7,4.4,4.6,4.5,4.8,4.9,5.2,4.6,4.8,4.8]
no2_pac_rms_cp = [4.2,4.0,3.9,4.3,4.1,4.3,4.0,4.2,4.3,4.0,3.9,3.4,3.8,2.4,2.6,2.4,3.0,2.7,2.8,3.0,3.2,3.9,4.0,3.6,3.5,3.6,3.7,3.8,3.7,4.0,3.6,3.8,3.9]
no2_pac_rms_cn = [5.3,5.0,4.8,5.2,4.9,5.1,4.9,5.1,5.3,4.8,4.6,4.1,4.7,3.3,3.1,2.9,4.0,3.5,3.2,3.5,3.7,5.1,5.2,4.6,4.3,4.5,4.5,4.7,4.8,5.1,4.5,4.7,4.6]

# ---- NO2 Pacific, fit window intensity [1e13 W/m2]
no2_pac_fit_k = [1.3,1.3,1.2,1.25,1.3,1.3,1.35,1.4,1.55,2.3,1.5,1.65,1.7,1.5,1.65,1.55,1.75,1.75,2.45,1.95,1.4,1.35,1.3,1.5,1.55,1.25,1.2,1.15,1.1,1.2,1.15,1.1,1.15]
no2_pac_fit_gp = [1.35,1.3,1.25,1.22,1.35,1.35,1.4,1.45,1.5,2.0,1.45,1.7,1.6,1.55,1.8,1.6,1.8,1.7,2.8,1.9,1.45,1.2,1.25,1.45,1.5,1.2,1.15,1.1,1.15,1.15,1.12,1.15,1.1]
no2_pac_fit_gn = [1.25,1.25,1.15,1.2,1.25,1.25,1.3,1.35,1.45,1.85,1.45,1.55,1.65,1.45,1.6,1.5,1.7,1.7,2.1,1.85,1.35,1.0,1.25,1.4,1.5,1.2,1.15,1.1,1.05,1.15,1.1,1.05,1.1]
no2_pac_fit_bp = [1.45,1.4,1.35,1.4,1.45,1.45,1.5,1.55,1.7,2.1,1.6,1.85,1.8,1.65,1.85,1.75,1.9,1.85,2.15,2.05,1.55,1.45,1.45,1.6,1.65,1.4,1.3,1.3,1.25,1.3,1.25,1.25,1.3]
no2_pac_fit_bn = [1.3,1.25,1.25,1.22,1.3,1.3,1.35,1.4,1.55,2.2,1.5,1.6,1.7,1.5,1.65,1.55,1.75,1.75,2.3,1.95,1.4,1.3,1.3,1.5,1.55,1.25,1.2,1.15,1.1,1.2,1.15,1.1,1.15]
no2_pac_fit_rp = [1.5,1.5,1.4,1.45,1.5,1.5,1.55,1.6,1.75,2.15,1.7,1.9,1.85,1.7,1.9,1.35,1.95,1.9,2.05,2.1,1.6,1.6,1.5,1.7,1.75,1.8,1.4,1.35,1.35,1.4,1.35,1.35,1.4]
no2_pac_fit_rn = [1.28,1.25,1.2,1.2,1.28,1.28,1.32,1.38,1.5,2.1,1.45,1.62,1.65,1.48,1.62,1.5,1.7,1.72,2.2,1.9,1.38,1.25,1.28,1.45,1.5,1.22,1.18,1.12,1.08,1.18,1.12,1.08,1.12]
no2_pac_fit_cp = [1.65,1.7,1.55,1.65,1.6,1.65,1.7,1.75,1.9,2.95,1.85,2.7,2.1,1.85,2.2,1.9,2.0,2.0,2.0,2.2,1.75,1.95,1.7,1.8,1.9,1.8,1.6,1.55,1.5,1.55,1.5,1.5,1.55]
no2_pac_fit_cn = [1.35,1.35,1.3,1.3,1.35,1.35,1.4,1.45,1.6,2.6,1.55,2.0,1.75,1.55,1.75,1.6,1.8,1.8,2.2,2.0,1.45,1.4,1.35,1.55,1.6,1.3,1.25,1.2,1.15,1.25,1.2,1.15,1.2]

# ---- NO2 Pacific, ChiSq [1e-4]
no2_pac_chi_k = [1.2,1.25,1.3,1.2,1.25,1.2,1.2,1.1,1.1,1.0,1.05,1.1,1.15,0.9,0.95,1.0,nan,1.1,1.2,1.3,1.4,1.6,1.4,1.2,1.15,2.5,1.3,1.4,1.35,1.35,1.45,1.3,1.3]
no2_pac_chi_gp = [1.15,1.2,1.25,1.15,1.2,1.15,1.1,1.05,1.05,0.95,1.0,1.05,1.1,0.85,0.9,0.95,nan,1.05,1.15,1.25,1.35,1.5,1.35,1.15,1.1,1.25,1.25,1.35,1.3,1.3,1.4,1.25,1.25]
no2_pac_chi_gn = [1.35,1.4,1.45,1.3,1.4,1.35,1.3,1.2,1.2,1.1,1.15,1.2,1.25,1.0,1.05,1.1,nan,1.2,1.35,1.45,1.55,1.75,1.5,1.3,1.25,1.45,1.4,1.5,1.5,1.5,1.6,1.45,1.45]
no2_pac_chi_bp = [1.05,1.1,1.15,1.05,1.1,1.05,1.05,0.95,0.95,0.9,0.95,0.95,1.0,0.8,0.85,0.9,nan,1.0,1.05,1.15,1.25,1.4,1.25,1.05,1.0,1.15,1.15,1.25,1.2,1.2,1.3,1.15,1.15]
no2_pac_chi_bn = [1.3,1.35,1.4,1.3,1.35,1.3,1.25,1.15,1.15,1.05,1.1,1.15,1.2,0.95,1.0,1.05,nan,1.15,1.3,1.4,1.5,1.7,1.45,1.25,1.2,1.4,1.35,1.45,1.45,1.45,1.55,1.4,1.4]
no2_pac_chi_rp = [1.0,1.05,1.1,1.0,1.05,1.0,1.0,0.9,0.9,0.85,0.9,0.9,0.95,0.75,0.8,0.85,nan,0.95,1.0,1.1,1.2,1.35,1.2,1.0,0.95,1.1,1.1,1.2,1.15,1.15,1.25,1.1,1.1]
no2_pac_chi_rn = [1.25,1.3,1.35,1.25,1.3,1.25,1.2,1.1,1.1,1.0,1.05,1.1,1.15,0.9,0.95,1.0,nan,1.1,1.25,1.35,1.45,1.65,1.4,1.2,1.15,1.35,1.3,1.4,1.4,1.4,1.5,1.35,1.35]
no2_pac_chi_cp = [0.9,0.95,1.0,0.9,0.95,0.9,0.9,0.85,0.85,0.8,0.85,0.85,0.9,0.7,0.75,0.8,nan,0.85,0.9,1.0,1.1,1.25,1.1,0.9,0.9,1.0,1.0,1.1,1.05,1.05,1.15,1.0,1.0]
no2_pac_chi_cn = [1.15,1.2,1.25,1.15,1.2,1.15,1.15,1.05,1.05,0.95,1.0,1.05,1.1,0.85,0.9,0.95,nan,1.05,1.2,1.3,1.4,1.6,1.3,1.1,1.1,1.3,1.25,1.35,1.3,1.3,1.4,1.3,1.3]

# tick labels
VC_BRO_LABELS = ["0"] + [rf"${i}\times10^{{15}}$" for i in range(1, 8)]
RMS_BRO_LABELS = ["0", r"$5.0\times10^{12}$", r"$1.0\times10^{13}$", r"$1.5\times10^{13}$", r"$2.0\times10^{13}$"]
FIT_BRO_LABELS = ["0", r"$2.0\times10^{12}$", r"$4.0\times10^{12}$", r"$6.0\times10^{12}$",
                  r"$8.0\times10^{12}$", r"$1.0\times10^{13}$", r"$1.2\times10^{13}$"]
CHI_BRO_LABELS = ["0", r"$5.0\times10^{-5}$", r"$1.0\times10^{-4}$", r"$1.5\times10^{-4}$",
                  r"$2.0\times10^{-4}$", r"$2.5\times10^{-4}$", r"$3.0\times10^{-4}$"]
VC_NO2_LABELS = ["0"] + [rf"${i}\times10^{{15}}$" for i in range(1, 5)]
RMS_NO2_LABELS = ["0"] + [rf"${i}\times10^{{14}}$" for i in range(1, 7)]
FIT_NO2_LABELS = ["0", r"$5.0\times10^{12}$", r"$1.0\times10^{13}$", r"$1.5\times10^{13}$",
                  r"$2.0\times10^{13}$", r"$2.5\times10^{13}$", r"$3.0\times10^{13}$"]
CHI_NO2_LABELS = ["0.0000", "0.0001", "0.0002", "0.0003", "0.0004", "0.0005", "0.0006"]

LEGEND_LINES = ["negative --> East", "positive --> West", "LOS <  5°",
                "5° < LOS < 15°", "15° < LOS < 25°", "25° < LOS < 35°", "35° < LOS < 45°"]

GREEN = "#33d633"
NAVY = "#1a1a86"
RED = "#e02222"
CYAN = "#3fdede"
LEGEND_COLORS = ["black", "black", "black", GREEN, NAVY, RED, CYAN]
LEGEND_DX = [0.0, 0.0, 0.068, 0.009, 0.0, 0.0, 0.0]

SERIES = [("gn", GREEN, "_"), ("gp", GREEN, "+"),
          ("bn", NAVY, "_"), ("bp", NAVY, "+"),
          ("rn", RED, "_"), ("rp", RED, "+"),
          ("cn", CYAN, "_"), ("cp", CYAN, "+"),
          ("k", "black", (6, 2, 0))]

plt.rcParams["font.family"] = ["DejaVu Sans"]
plt.rcParams["mathtext.default"] = "regular"

fig = plt.figure(figsize=(30.65, 30), dpi=100)
fig.patch.set_facecolor("white")

# red side bars
fig.patches.append(Rectangle((0.0039, 0.5067), 0.049, 0.479, transform=fig.transFigure,
                             facecolor="#ff0000", edgecolor="none"))
fig.patches.append(Rectangle((0.0039, 0.0033), 0.049, 0.4777, transform=fig.transFigure,
                             facecolor="#ff0000", edgecolor="none"))
BIG = dict(rotation=90, ha="center", va="center", color="white", fontweight="bold",
           family=["Liberation Sans", "DejaVu Sans"])
fig.text(0.0294, 0.7486, "BrO", fontsize=84, **BIG)
fig.text(0.0294, 0.2350, "NO", fontsize=84, **BIG)
fig.text(0.0452, 0.2760, "2", fontsize=70, **BIG)

COLS = {"sah": (0.1595, 0.3635), "pac": (0.6137, 0.3667)}

# name, (bottom, height), scale, ymax, tick step (scaled), minor step, labels, ylabel,
# ylabel x (left col, right col), species for title
PANELS = [
    ("bro_{}_vc", (0.869, 0.107), 1e15, 7.0, 1.0, 0.1, VC_BRO_LABELS, "VC [molec./cm^2]", (-0.111, -0.104), "BrO"),
    ("bro_{}_rms", (0.7477, 0.107), 1e13, 2.0, 0.5, 0.1, RMS_BRO_LABELS, "RMS [molec./cm^2]", (-0.109, -0.105), None),
    ("bro_{}_fit", (0.6267, 0.1093), 1e12, 13.0, 2.0, 0.5, FIT_BRO_LABELS, "fit window intensity [W/m^2]", (-0.128, -0.124), None),
    ("bro_{}_chi", (0.506, 0.107), 1e-4, 3.0, 0.5, 0.1, CHI_BRO_LABELS, "ChiSq", (-0.135, -0.13), None),
    ("no2_{}_vc", (0.3653, 0.1067), 1e15, 4.0, 1.0, 0.1, VC_NO2_LABELS, "VC [molec./cm^2]", (-0.111, -0.104), "NO2"),
    ("no2_{}_rms", (0.244, 0.1063), 1e14, 6.0, 1.0, 0.2, RMS_NO2_LABELS, "RMS [molec./cm^2]", (-0.111, -0.104), None),
    ("no2_{}_fit", (0.123, 0.1067), 1e13, 3.0, 0.5, 0.1, FIT_NO2_LABELS, "fit window intensity [W/m^2]", (-0.13, -0.126), None),
    ("no2_{}_chi", (0.003, 0.106), 1e-4, 6.0, 1.0, 0.2, CHI_NO2_LABELS, "ChiSq", (-0.113, -0.108), None),
]
PLACE = {"sah": "Sahara", "pac": "Pacific"}

for ci, (col, (x0, w)) in enumerate(COLS.items()):
    for name, (y0, h), scale, ymax, step, minor, labels, ylabel, ylx, species in PANELS:
        key = name.format(col)
        ax = fig.add_axes([x0, y0, w, h])
        for suf, color, mk in SERIES:
            vals = np.array(globals()[f"{key}_{suf}"], dtype=float)
            assert len(vals) == len(DAY), key + suf
            if mk == "+":
                ms, mew = 13, 2.4
            elif mk == "_":
                ms, mew = 13, 2.7
            else:
                ms, mew = 15, 2.3
            ax.plot(DAY, vals * scale, ls="none", marker=mk, color=color, ms=ms, mew=mew,
                    clip_on=False, zorder=3)

        ax.set_xlim(-12.9, 18.8)
        ax.set_ylim(0, ymax * scale)
        ticks = [i * step * scale for i in range(len(labels))]
        ax.set_yticks(ticks)
        ax.set_yticklabels(labels)
        for lbl in ax.get_yticklabels():
            lbl.set_fontweight("bold")
        ax.yaxis.set_minor_locator(MultipleLocator(minor * scale))
        for s in ("top", "bottom"):
            ax.spines[s].set_visible(False)
        for s in ("left", "right"):
            ax.spines[s].set_linewidth(2.2)
        ax.tick_params(axis="x", which="both", bottom=False, top=False, labelbottom=False)
        ax.tick_params(axis="y", which="both", direction="in", left=True, right=True,
                       labelleft=True, labelright=False, width=2.2)
        ax.tick_params(axis="y", which="major", length=14, labelsize=14.5, pad=6)
        ax.tick_params(axis="y", which="minor", length=7)

        ax.text(ylx[ci], 0.5, ylabel, transform=ax.transAxes, rotation=90,
                ha="center", va="center", fontsize=14, fontweight="bold")

        # date markers
        blend = transforms.blended_transform_factory(ax.transData, ax.transAxes)
        for d, txt in ((0, "6 Sep 2009"), (7, "13 Sep 2009")):
            ax.axvline(d, color="black", lw=2.2, ls=(0, (3.6, 2.6)), zorder=1)
            tr = transforms.offset_copy(blend, fig=fig, x=-6, y=3, units="dots")
            ax.text(d, 0.0, txt, transform=tr, rotation=90, ha="center", va="bottom",
                    fontsize=12.5, fontweight="bold")

        if species is not None:
            ax.set_title(f"{species} over the {PLACE[col]} during 2nd throughput test",
                         fontsize=22.5, pad=8)
            if species == "BrO":
                top, dy = 0.446, 0.0582
            else:
                top, dy = 0.414, 0.078
            for i, (line, c) in enumerate(zip(LEGEND_LINES, LEGEND_COLORS)):
                ax.text(0.03 + LEGEND_DX[i], top - i * dy, line, transform=ax.transAxes,
                        ha="left", va="center", color=c, fontsize=15.5, fontweight="bold",
                        clip_on=False, zorder=5)

fig.savefig("out.png", dpi=100, facecolor="white")
